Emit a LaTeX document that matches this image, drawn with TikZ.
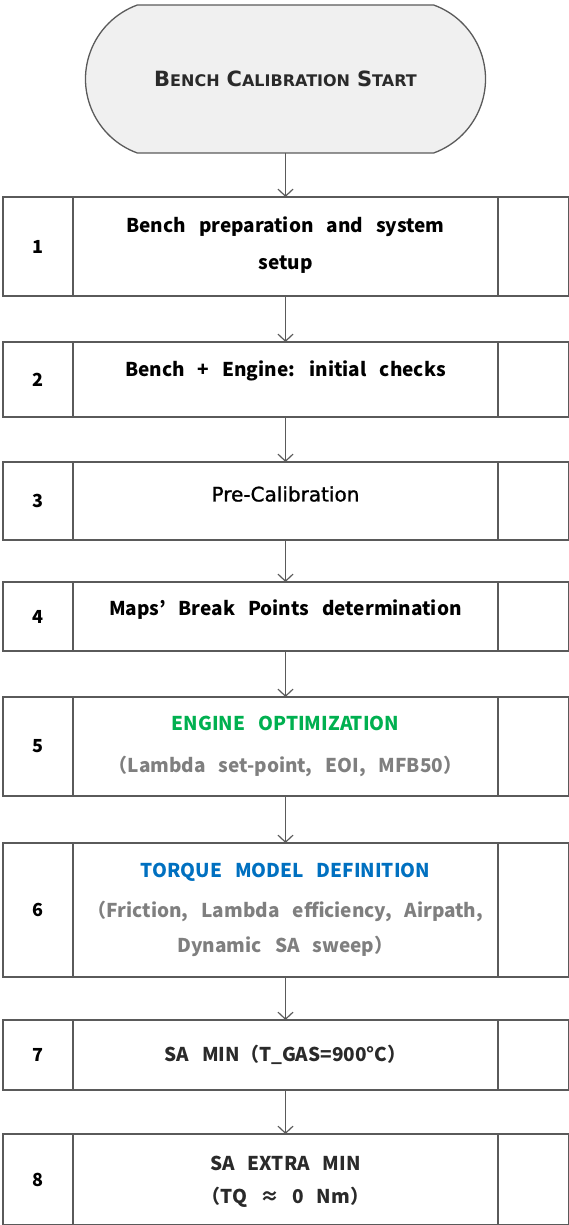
\documentclass[tikz,border=0pt]{standalone}
\usepackage{fontspec}
\usetikzlibrary{arrows.meta,shapes.misc}
\newfontfamily\krfont{Noto Sans CJK KR}
\newfontfamily\djfont{DejaVu Sans}
\newfontfamily\djmid{DejaVu Sans}[FakeBold=1.2]
\definecolor{linegrey}{HTML}{5A5A5A}
\definecolor{termfill}{HTML}{F0F0F0}
\definecolor{optgreen}{HTML}{00B050}
\definecolor{tqblue}{HTML}{0070C0}
\definecolor{subgrey}{HTML}{7F7F7F}
\definecolor{darktxt}{HTML}{2A2A2A}
% big initial + small capitals
\newcommand\capword[2]{{\fontsize{21}{25}\selectfont #1}{\fontsize{16}{19}\selectfont #2}}
% wide inter-word spacing
\newcommand\widesp{\spaceskip=13pt\relax}
\tikzset{
  cell/.style={draw=linegrey, line width=1.3pt, rectangle, inner sep=0pt, outer sep=0pt},
  numtxt/.style={font=\krfont\bfseries\fontsize{18}{21}\selectfont, text=black},
  body/.style={font=\krfont\bfseries\fontsize{19}{22}\selectfont, text=black, inner sep=0pt,
               execute at begin node=\widesp},
  arr/.style={draw=linegrey, line width=1.2pt, -{Straight Barb[length=7pt,width=15pt,line width=1.2pt]}}
}
% one table row: name, number, top, bottom
\newcommand\flowrow[4]{%
  \node[cell, numtxt, minimum width=70, minimum height={#4-#3}] (n#1) at (38,{(#3+#4)/2}) {#2};
  \node[cell, minimum width=425, minimum height={#4-#3}] (s#1) at (285.5,{(#3+#4)/2}) {};
  \node[cell, minimum width=71, minimum height={#4-#3}] (r#1) at (533.5,{(#3+#4)/2}) {};
}
\begin{document}
\begin{tikzpicture}[x=1pt, y=-1pt]
\useasboundingbox (0,0) rectangle (569,1225);

\node[draw=linegrey, line width=1.3pt, fill=termfill, rounded rectangle,
      rounded rectangle arc length=140, minimum width=400, minimum height=148,
      inner sep=0pt, outer sep=0pt, font=\djfont\bfseries, text=darktxt] (start) at (285.5,79)
  {\capword{B}{ENCH}\hspace{7pt}\capword{C}{ALIBRATION}\hspace{7pt}\capword{S}{TART}};

\flowrow{1}{1}{197}{296}
\flowrow{2}{2}{342}{417}
\flowrow{3}{3}{462}{540}
\flowrow{4}{4}{582}{651}
\flowrow{5}{5}{697}{796}
\flowrow{6}{6}{843}{977}
\flowrow{7}{7}{1020}{1090}
\flowrow{8}{8}{1134}{1225}

\node[body] (t1a) at (285.5,227) {Bench preparation and system};
\node[body] (t1b) at (285.5,265) {setup};
\node[body] (t2) at (285.5,371) {Bench + Engine: initial checks};
\node[body, font=\djmid\fontsize{20}{24}\selectfont] (t3) at (285.5,494) {Pre-Calibration};
\node[body] (t4) at (285.5,610) {Maps’ Break Points determination};
\node[body, text=optgreen] (t5a) at (285.5,723) {ENGINE OPTIMIZATION};
\node[body, text=subgrey] (t5b) at (285.5,766) {（Lambda set-point, EOI, MFB50）};
\node[body, text=tqblue] (t6a) at (285.5,872) {TORQUE MODEL DEFINITION};
\node[body, text=subgrey] (t6b) at (285.5,911) {（Friction, Lambda efficiency, Airpath,};
\node[body, text=subgrey] (t6c) at (285.5,946) {Dynamic SA sweep）};
\node[body, text=darktxt] (t7) at (285.5,1055) {SA MIN（T\_GAS=900°C）};
\node[body, text=darktxt] (t8a) at (285.5,1163) {SA EXTRA MIN};
\node[body, text=darktxt] (t8b) at (285.5,1197) {（TQ ≈ 0 Nm）};

\draw[arr] (start.south) -- (s1.north);
\draw[arr] (s1.south) -- (s2.north);
\draw[arr] (s2.south) -- (s3.north);
\draw[arr] (s3.south) -- (s4.north);
\draw[arr] (s4.south) -- (s5.north);
\draw[arr] (s5.south) -- (s6.north);
\draw[arr] (s6.south) -- (s7.north);
\draw[arr] (s7.south) -- (s8.north);
\end{tikzpicture}
\end{document}
